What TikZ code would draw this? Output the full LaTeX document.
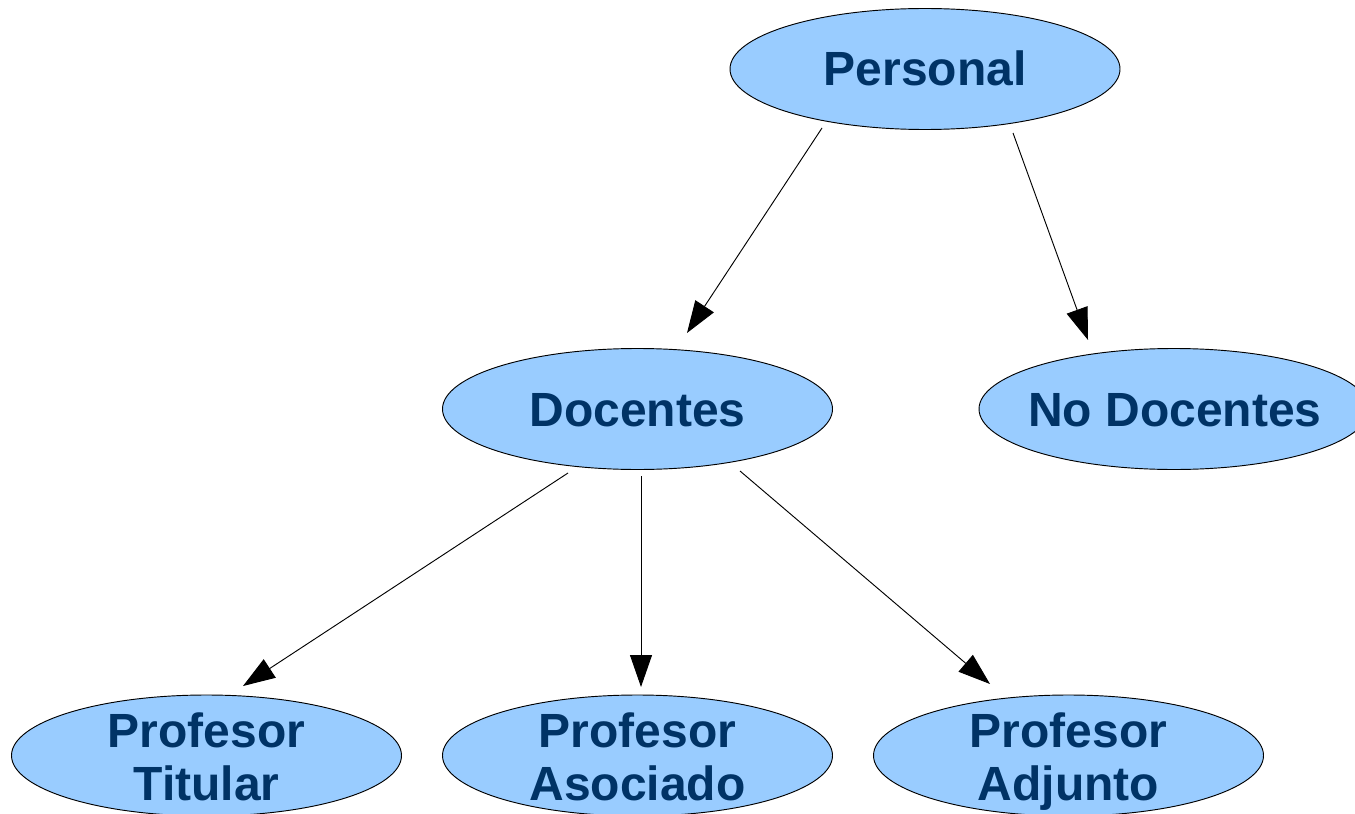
\documentclass[tikz,border=0pt]{standalone}
\usepackage{fontspec}
\setmainfont{Liberation Sans}
\usetikzlibrary{shapes.geometric,arrows.meta,calc}
\definecolor{ellfill}{HTML}{99CCFF}
\definecolor{txtblue}{HTML}{003366}
\begin{document}
\begin{tikzpicture}[x=0.75pt,y=-0.75pt,
  ell/.style={ellipse, draw=black, line width=0.7pt, fill=ellfill,
    minimum width=292.5pt, minimum height=90.75pt, inner sep=0pt},
  lbl/.style={anchor=base, inner sep=0pt, text=txtblue,
    font=\fontsize{36}{40}\selectfont\bfseries},
  arr/.style={draw=black, line width=0.7pt,
    -{Triangle[length=24pt,width=16.5pt]}}]
\useasboundingbox (0,0) rectangle (1355,813);
\fill[white] (0,0) rectangle (1355,813);

\node[ell] (personal) at (925,69) {};
\node[ell] (docentes) at (637.5,409) {};
\node[ell] (nodoc) at (1174,409) {};
\node[ell] (tit) at (206.5,755.5) {};
\node[ell] (asoc) at (637.5,755.5) {};
\node[ell] (adj) at (1068.5,755.5) {};

\node[lbl] (personalT) at ($(personal.center)+(0,17)$) {Personal};
\node[lbl] (docentesT) at ($(docentes.center)+(0,17)$) {Docentes};
\node[lbl] (nodocT) at ($(nodoc.center)+(1,17)$) {No Docentes};
\node[lbl] (titA) at ($(tit.center)+(0,-8)$) {Profesor};
\node[lbl] (titB) at ($(tit.center)+(0,45)$) {Titular};
\node[lbl] (asocA) at ($(asoc.center)+(0,-8)$) {Profesor};
\node[lbl] (asocB) at ($(asoc.center)+(0,45)$) {Asociado};
\node[lbl] (adjA) at ($(adj.center)+(0,-8)$) {Profesor};
\node[lbl] (adjB) at ($(adj.center)+(0,45)$) {Adjunto};

\draw[arr] ($(personal.center)+(-103,59)$) -- ($(docentes.center)+(49.5,-76)$);
\draw[arr] ($(personal.center)+(88,64)$) -- ($(nodoc.center)+(-86,-69)$);
\draw[arr] ($(docentes.center)+(-69.5,64)$) -- ($(tit.center)+(36.5,-69.5)$);
\draw[arr] ($(docentes.center)+(3.5,67)$) -- ($(asoc.center)+(3.5,-68.5)$);
\draw[arr] ($(docentes.center)+(102.5,62)$) -- ($(adj.center)+(-78.5,-71.5)$);
\end{tikzpicture}
\end{document}
